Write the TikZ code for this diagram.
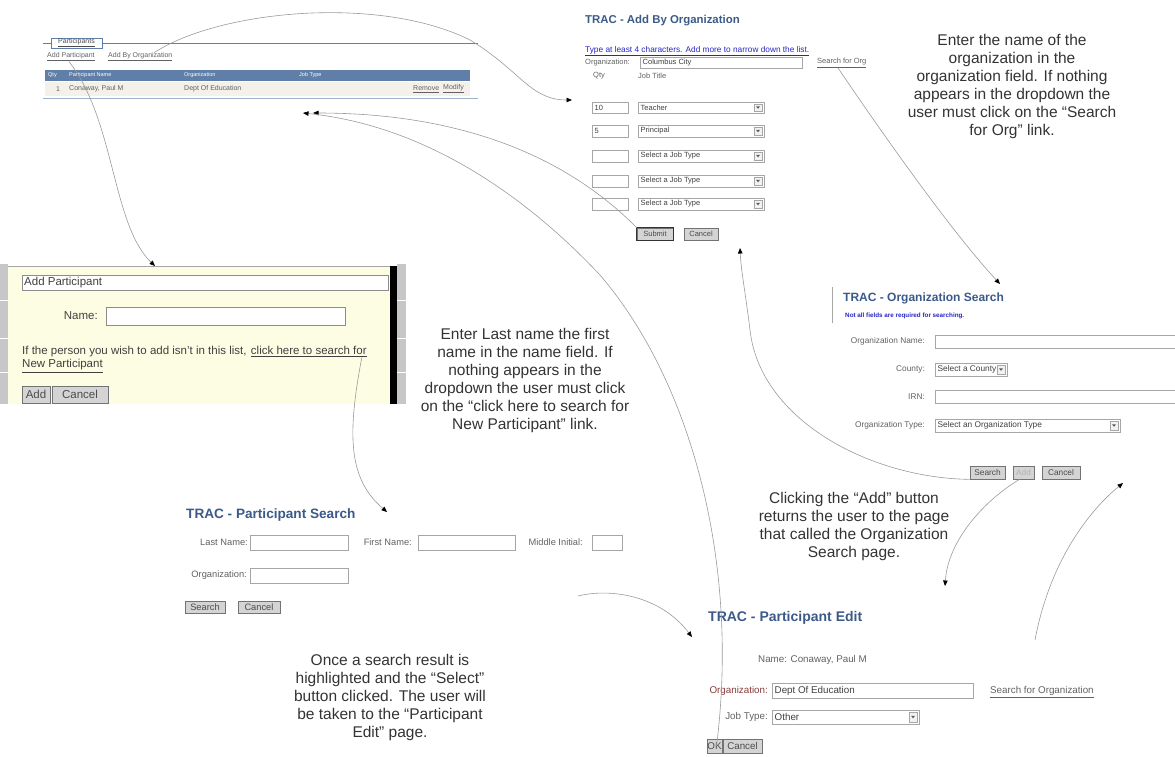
\documentclass[tikz,border=0pt]{standalone}
\usepackage{fontspec}
\setmainfont{Liberation Sans}
\usetikzlibrary{arrows.meta,positioning}

\definecolor{tractitle}{HTML}{3C5A88}
\definecolor{hintblue}{HTML}{2626C4}
\definecolor{barblue}{HTML}{5F7FA8}
\definecolor{rowtint}{HTML}{F3F1EA}
\definecolor{btngray}{HTML}{D4D4D4}
\definecolor{popup}{HTML}{FDFDE3}
\definecolor{wire}{HTML}{9A9A9A}
\definecolor{notegray}{HTML}{333333}
\definecolor{orglabel}{HTML}{8A3B3B}

\tikzset{
  ui/.style={inner sep=0pt, text=black!62, font=\fontsize{8}{9}\selectfont},
  pagetitle/.style={anchor=west, inner sep=0pt, text=tractitle, font=\fontsize{#1}{#1}\selectfont\bfseries},
  field/.style={draw=black!35, fill=white, line width=0.6pt},
  pushbutton/.style={draw=black!55, fill=btngray, line width=0.7pt},
  note/.style={align=center, inner sep=0pt, text=notegray, font=\fontsize{15.5}{18}\selectfont},
  flow/.style={draw=wire, line width=0.6pt, -{Triangle[length=5.5pt,width=4.5pt,color=black]}},
}

% x1 y1 x2 y2 text
\newcommand{\inputbox}[5]{\draw[field] (#1,#2) rectangle (#3,#4);
  \node[ui, anchor=west, text=black!75] at ({#1+2.5},{(#2+#4)/2}) {#5};}
\newcommand{\selectbox}[5]{\inputbox{#1}{#2}{#3}{#4}{#5}
  \draw[draw=black!35, fill=black!5] ({#3-10},{#2+2}) rectangle ({#3-2},{#4-2});
  \fill[black!65] ({#3-8},{(#2+#4)/2-1.2}) -- ({#3-4},{(#2+#4)/2-1.2}) -- ({#3-6},{(#2+#4)/2+1.3}) -- cycle;}
% name x1 y1 x2 y2 text
\newcommand{\uibutton}[6]{\node[pushbutton, ui, text=black!70, minimum width={#4-#2}, minimum height={#5-#3}]
  (#1) at ({(#2+#4)/2},{(#3+#5)/2}) {#6};}

\begin{document}
\begin{tikzpicture}[x=1pt,y=-1pt]
\useasboundingbox (0,0) rectangle (1175,756);

% participants list
\begin{scope}[ui/.append style={font=\fontsize{7}{8}\selectfont}]
\draw[barblue, line width=0.9pt] (43,43) -- (51,43) (102,43) -- (478,43);
\node[ui, draw=barblue, line width=0.9pt, fill=white, minimum width=51, minimum height=10, text=black!70] (legend) at (76.5,43) {\underline{Participants}};
\node[ui, anchor=west] (addpart) at (47,57) {\underline{Add Participant}};
\node[ui, anchor=west] (addbyorg) at (108,57) {\underline{Add By Organization}};
\fill[barblue] (45,70) rectangle (470,81);
\node[ui, anchor=west, text=white, font=\fontsize{5.5}{6}\selectfont] at (48,75.5) {Qty};
\node[ui, anchor=west, text=white, font=\fontsize{5.5}{6}\selectfont] at (69,75.5) {Participant Name};
\node[ui, anchor=west, text=white, font=\fontsize{5.5}{6}\selectfont] at (184,75.5) {Organization};
\node[ui, anchor=west, text=white, font=\fontsize{5.5}{6}\selectfont] at (299,75.5) {Job Type};
\fill[rowtint] (45,82) rectangle (470,96);
\node[ui, anchor=west] at (56,89) {1};
\node[ui, anchor=west] at (69,89) {Conaway, Paul M};
\node[ui, anchor=west] at (184,89) {Dept Of Education};
\node[ui, anchor=west] at (413,89) {\underline{Remove}};
\node[ui, anchor=west] at (443,89) {\underline{Modify}};
\draw[barblue!60, line width=1pt] (43,98) -- (478,98);
\end{scope}

% add by organization
\node[pagetitle=11.4] (abotitle) at (585,21) {TRAC - Add By Organization};
\begin{scope}[ui/.append style={font=\fontsize{7.5}{8.5}\selectfont}]
\node[ui, anchor=west, text=hintblue, font=\fontsize{8.3}{9}\selectfont] at (585,51) {\underline{Type at least 4 characters. Add more to narrow down the list.}};
\node[ui, anchor=west] at (585,62.5) {Organization:};
\inputbox{640}{57}{802}{68}{Columbus City}
\node[ui, anchor=west] (orgsearchlink) at (817,63) {\underline{Search for Org}};
\node[ui, anchor=west] at (593,76) {Qty};
\node[ui, anchor=west] at (638,76) {Job Title};
\inputbox{592}{102}{628}{113}{10}
\selectbox{638}{102}{764}{113}{Teacher}
\inputbox{592}{125}{628}{137}{5}
\selectbox{638}{125}{764}{137}{Principal}
\inputbox{592}{150}{628}{162}{}
\selectbox{638}{150}{764}{162}{Select a Job Type}
\inputbox{592}{175}{628}{187}{}
\selectbox{638}{175}{764}{187}{Select a Job Type}
\inputbox{592}{198}{628}{210}{}
\selectbox{638}{198}{764}{210}{Select a Job Type}
\uibutton{submitbtn}{637}{228}{673}{240}{Submit}
\draw[black!80, line width=1pt] (submitbtn.south west) rectangle (submitbtn.north east);
\uibutton{abocancel}{684}{228}{718}{240}{Cancel}
\end{scope}

% add participant popup
\fill[black!22] (0,264) rectangle (8,404);
\draw[white, line width=1pt] (0,300) -- (8,300) (0,338) -- (8,338) (0,372) -- (8,372);
\fill[black!22] (397,264) rectangle (406,404);
\draw[white, line width=1pt] (397,300) -- (406,300) (397,338) -- (406,338) (397,372) -- (406,372);
\fill[popup] (8,266) rectangle (390,404);
\fill[black] (390,266) rectangle (397,404);
\draw[black!35] (8,266) -- (390,266);
\begin{scope}[ui/.append style={font=\fontsize{11.5}{13}\selectfont, text=black!75}]
\draw[field, draw=black!45] (22,275) rectangle (388,290);
\node[ui, anchor=west] (dlgtitle) at (24,282.5) {Add Participant};
\node[ui, anchor=east] at (98,316) {Name:};
\draw[field, draw=black!45] (106,307) rectangle (345,325);
\node[ui, anchor=west] (ifnote) at (22,352) {If the person you wish to add isn't in this list,};
\node[ui, anchor=base west] (newpartlink) at ([xshift=4]ifnote.base east) {\underline{click here to search for}};
\node[ui, anchor=west] at (22,366) {\underline{New Participant}};
\uibutton{addbtn}{22}{386}{50}{403}{Add}
\uibutton{dlgcancel}{52}{386}{108}{403}{Cancel}
\end{scope}

% organization search
\draw[black!35, line width=1pt] (832,287) -- (832,323);
\node[pagetitle=12] (ostitle) at (843,298) {TRAC - Organization Search};
\begin{scope}[ui/.append style={font=\fontsize{8.3}{9}\selectfont}]
\node[ui, anchor=west, text=hintblue, font=\fontsize{6.3}{7}\selectfont\bfseries] at (845,316) {Not all fields are required for searching.};
\node[ui, anchor=east] at (925,341) {Organization Name:};
\inputbox{935}{335}{1178}{348}{}
\node[ui, anchor=east] at (925,369) {County:};
\selectbox{935}{363}{1007}{376}{Select a County}
\node[ui, anchor=east] at (925,397) {IRN:};
\inputbox{935}{390}{1178}{403}{}
\node[ui, anchor=east] at (925,425.5) {Organization Type:};
\selectbox{935}{419}{1120}{432}{Select an Organization Type}
\uibutton{searchbtn}{970}{466}{1005}{479}{Search}
\uibutton{osaddbtn}{1013}{466}{1034}{479}{\textcolor{black!30}{Add}}
\uibutton{oscancel}{1042}{466}{1080}{479}{Cancel}
\end{scope}

% participant search
\node[pagetitle=13.6] (pstitle) at (186,515) {TRAC - Participant Search};
\begin{scope}[ui/.append style={font=\fontsize{9.3}{10}\selectfont}]
\node[ui, anchor=east] at (248,542.5) {Last Name:};
\inputbox{250}{535}{348}{550}{}
\node[ui, anchor=east] at (412,542.5) {First Name:};
\inputbox{418}{535}{515}{550}{}
\node[ui, anchor=east] at (583,542.5) {Middle Initial:};
\inputbox{592}{535}{622}{550}{}
\node[ui, anchor=east] at (247,575.5) {Organization:};
\inputbox{250}{568}{348}{583}{}
\uibutton{pssearch}{185}{601}{225}{613}{Search}
\uibutton{pscancel}{238}{601}{280}{613}{Cancel}
\end{scope}

% participant edit
\node[pagetitle=14] (petitle) at (708,618) {TRAC - Participant Edit};
\begin{scope}[ui/.append style={font=\fontsize{9.8}{11}\selectfont}]
\node[ui, anchor=west] at (758,660) {Name: Conaway, Paul M};
\node[ui, anchor=east, text=orglabel] at (768,691) {Organization:};
\inputbox{772}{683}{973}{698}{Dept Of Education}
\node[ui, anchor=west] (peorglink) at (990,692) {\underline{Search for Organization}};
\node[ui, anchor=east] at (768,717) {Job Type:};
\selectbox{772}{710}{919}{724}{Other}
\uibutton{okbtn}{707}{739}{722}{753}{OK}
\uibutton{pecancel}{723}{739}{762}{753}{Cancel}
\end{scope}

% arrow ends
\coordinate (listin1) at (313,113);
\coordinate (listin2) at (303,113);
\coordinate (aboin) at (572,100);
\coordinate (dlgin) at (155,266);
\coordinate (psin) at (387,512);
\coordinate (osin) at (1000,284);
\coordinate (aboback) at (740,248);
\coordinate (pein) at (945,586);
\coordinate (osback) at (1123,483);
\coordinate (peedit) at (692,637);
\coordinate (psout) at (578,596);
\coordinate (peout) at (1035,640);

\draw[flow] ([xshift=14]addbyorg.north) .. controls (220,10) and (380,-5) .. (470,40) .. controls (520,70) and (530,100) .. (aboin);
\draw[flow] ([xshift=-2]addpart.south) .. controls (115,120) and (112,225) .. (dlgin);
\draw[flow] ([xshift=-5]newpartlink.south east) .. controls (346,440) and (350,480) .. (psin);
\draw[flow] ([xshift=-4]orgsearchlink.south) .. controls (880,130) and (950,230) .. (osin);
\draw[flow] (searchbtn.south west) .. controls (870,478) and (760,420) .. (750,330) .. controls (745,290) and (741,270) .. (aboback);
\draw[flow] ([xshift=-4]osaddbtn.south) .. controls (985,500) and (948,540) .. (pein);
\draw[flow] (submitbtn.north west) .. controls (560,150) and (450,113) .. (listin1);
\draw[flow] ([xshift=2]okbtn.center) .. controls (740,560) and (690,380) .. (600,275) .. controls (520,190) and (420,125) .. (listin2);
\draw[flow] (peout) .. controls (1050,560) and (1090,510) .. (osback);
\draw[flow] (psout) .. controls (610,588) and (660,595) .. (peedit);

% notes
\node[note] (orgnote) at (1012,86) {Enter the name of the\\organization in the\\organization field. If nothing\\appears in the dropdown the\\user must click on the “Search\\for Org” link.};
\node[note] (partnote) at (525,380) {Enter Last name the first\\name in the name field. If\\nothing appears in the\\dropdown the user must click\\on the “click here to search for\\New Participant” link.};
\node[note] (addnote) at (854,526) {Clicking the “Add” button\\returns the user to the page\\that called the Organization\\Search page.};
\node[note] (selectnote) at (390,697) {Once a search result is\\highlighted and the “Select”\\button clicked. The user will\\be taken to the “Participant\\Edit” page.};
\end{tikzpicture}
\end{document}
